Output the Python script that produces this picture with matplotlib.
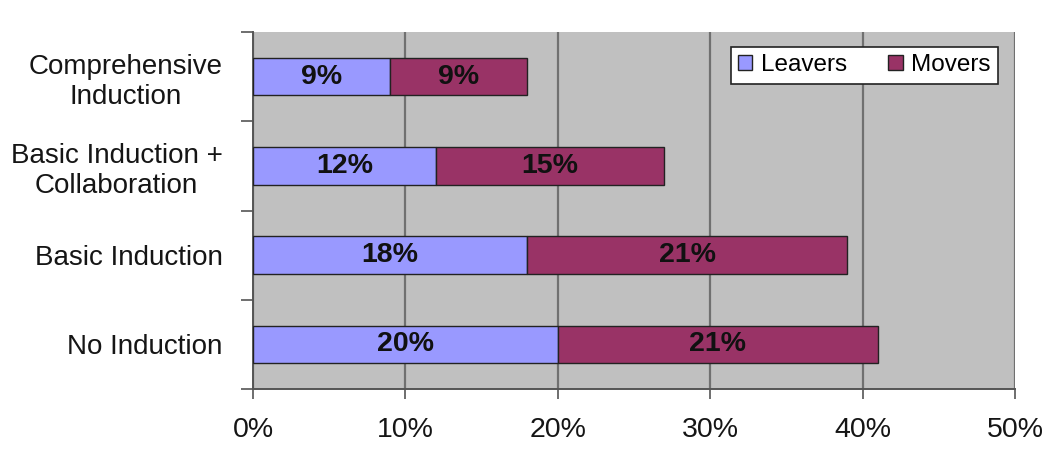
import matplotlib
matplotlib.use("Agg")
import matplotlib.pyplot as plt
import numpy as np

plt.rcParams['font.family'] = ['Liberation Sans', 'DejaVu Sans']

categories = ["No Induction", "Basic Induction", "Basic Induction +\nCollaboration", "Comprehensive\nInduction"]
leavers = [20, 18, 12, 9]
movers = [21, 21, 15, 9]
xticks = [0, 10, 20, 30, 40, 50]
series_names = ["Leavers", "Movers"]

c_leave = "#9999FF"
c_move = "#993366"

fig = plt.figure(figsize=(10.48, 4.70), dpi=100)
ax = fig.add_axes([253/1048, 1-389/470, (1015-253)/1048, (389-32)/470])
ax.set_facecolor("#C0C0C0")

y = np.arange(len(categories))
h = 0.42
ax.barh(y, leavers, height=h, color=c_leave, edgecolor="#222222", linewidth=1.0, label=series_names[0], zorder=3)
ax.barh(y, movers, left=leavers, height=h, color=c_move, edgecolor="#222222", linewidth=1.0, label=series_names[1], zorder=3)

for i in range(len(categories)):
    ax.text(leavers[i] / 2, y[i], f"{leavers[i]}%", ha="center", va="center",
            fontsize=20.5, fontweight="bold", color="#111111", zorder=4)
    ax.text(leavers[i] + movers[i] / 2, y[i], f"{movers[i]}%", ha="center", va="center",
            fontsize=20.5, fontweight="bold", color="#111111", zorder=4)

ax.set_xlim(0, 50)
ax.set_ylim(-0.5, len(categories) - 0.5)
ax.set_xticks(xticks)
ax.set_xticklabels([f"{t}%" for t in xticks], fontsize=20.5, color="#151515")
ax.xaxis.grid(True, color="#707070", linewidth=1.6, zorder=1)
ax.set_axisbelow(True)

# y ticks at category boundaries, labels at centers
ax.set_yticks(np.arange(-0.5, len(categories), 1.0))
ax.set_yticklabels([])
ax.tick_params(axis="y", which="major", length=9, width=1.2, color="#555555", direction="out")
ax.set_yticks(y, minor=True)
ax.set_yticklabels(categories, minor=True, fontsize=20, color="#151515", multialignment="center",
                   linespacing=1.2)
ax.tick_params(axis="y", which="minor", length=0, pad=22)
ax.tick_params(axis="x", length=7, width=1.2, color="#555555", pad=13)

for s in ["top", "right"]:
    ax.spines[s].set_visible(False)
for s in ["left", "bottom"]:
    ax.spines[s].set_color("#555555")
    ax.spines[s].set_linewidth(1.4)

leg = ax.legend(loc="upper right", bbox_to_anchor=(0.978, 0.958), ncol=2, fontsize=17.5,
                frameon=True, fancybox=False, edgecolor="#222222", framealpha=1,
                handlelength=0.6, handleheight=0.6, handletextpad=0.35, columnspacing=1.7,
                borderpad=0.3, borderaxespad=0)
leg.get_frame().set_linewidth(1.2)

fig.savefig("out.png", dpi=100)
